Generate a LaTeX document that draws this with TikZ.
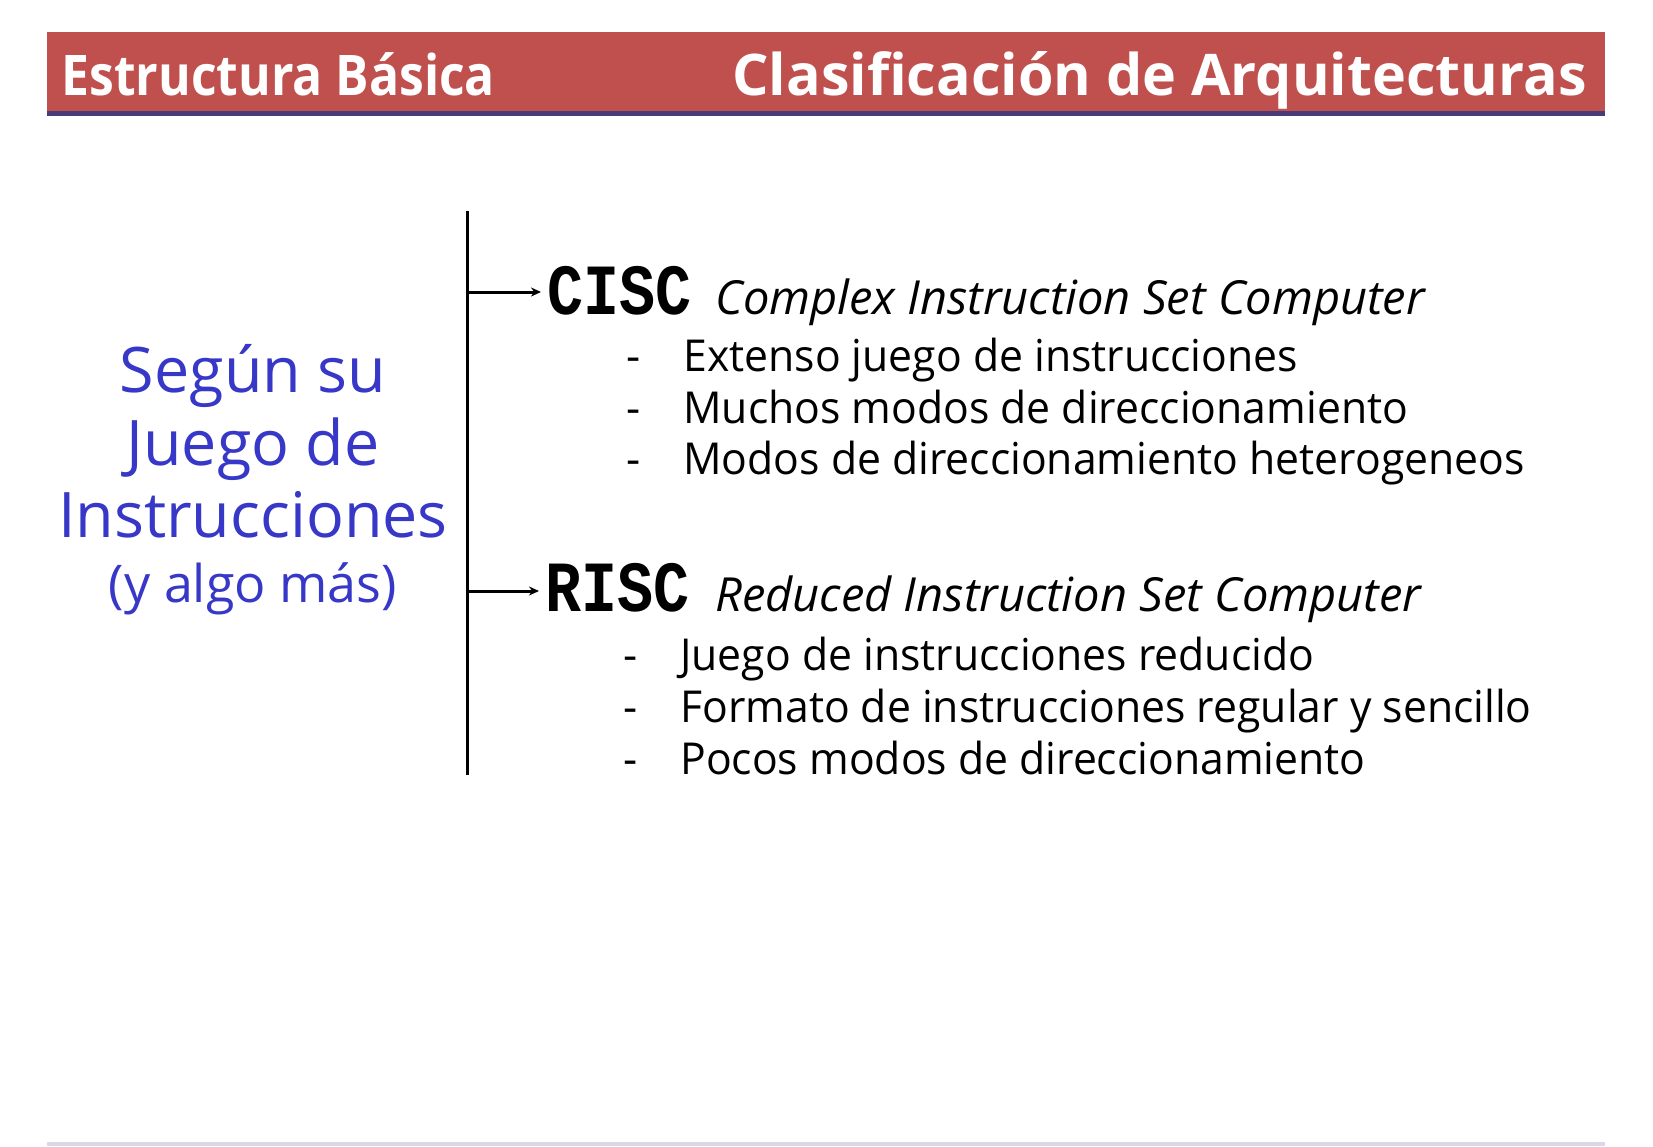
\documentclass[tikz,border=0pt]{standalone}
\usepackage{fontspec}
\setmainfont{Open Sans}
\newfontfamily\codefont{Liberation Mono}
\usetikzlibrary{arrows.meta}
\definecolor{hdrred}{HTML}{C0504D}
\definecolor{hdrline}{HTML}{4B3A78}
\definecolor{footline}{HTML}{D8D8E8}
\definecolor{sideblue}{HTML}{3737C8}
\begin{document}
\begin{tikzpicture}[x=0.5pt,y=-0.5pt,
  hdrtext/.style={text=white,inner sep=0,anchor=base west,
    font=\fontsize{28}{30}\selectfont\bfseries},
  acronym/.style={inner sep=0,anchor=base west,yscale=1.2,
    font=\codefont\fontsize{30}{32}\selectfont\bfseries},
  longname/.style={inner sep=0,anchor=base west,
    font=\fontsize{23.5}{25}\selectfont\itshape},
  item/.style={inner sep=0,anchor=base west,xscale=0.97,
    font=\fontsize{22}{24}\selectfont},
  dashmark/.style={inner sep=0,anchor=base west,
    font=\fontsize{22}{24}\selectfont},
  side/.style={inner sep=0,anchor=base,text=sideblue,
    font=\fontsize{31.4}{33}\selectfont},
  branch/.style={line width=1.5pt,shorten >=3pt,
    -{Stealth[length=5pt,width=4.5pt]}},
  bar/.style={line width=1.5pt}]
\useasboundingbox (0,0) rectangle (1653,1146);
\fill[white] (0,0) rectangle (1653,1146);

% title bar
\fill[hdrred] (47,32) rectangle (1605,111);
\fill[hdrline] (47,111) rectangle (1605,116);
\node[hdrtext,xscale=0.89] (sec) at (61,95) {Estructura Básica};
\node[hdrtext,anchor=base east,font=\fontsize{28.7}{31}\selectfont\bfseries] (title) at (1587,95) {Clasificación de Arquitecturas};

% footer rule
\fill[footline] (47,1142) rectangle (1605,1146);

% left caption
\node[side] (l1) at (253,392) {Según su};
\node[side] (l2) at (253,465) {Juego de};
\node[side] (l3) at (253,537) {Instrucciones};
\node[side,font=\fontsize{26}{28}\selectfont] (l4) at (253,602) {(y algo más)};

% vertical bar and branches
\coordinate (bartop) at (467,211);
\coordinate (barbot) at (467,775);
\draw[bar] (bartop) -- (barbot);

\node[acronym] (cisc) at (547,314) {CISC};
\node[longname] (ciscname) at (715,314) {Complex Instruction Set Computer};
\coordinate (cjoin) at (467,292);
\draw[branch] (cjoin) -- (cjoin -| cisc.west);

\node[acronym] (risc) at (545,611) {RISC};
\node[longname] (riscname) at (715,611) {Reduced Instruction Set Computer};
\coordinate (rjoin) at (467,591);
\draw[branch] (rjoin) -- (rjoin -| risc.west);

% CISC features
\node[dashmark] (cd1) at (626,371) {-};
\node[item] (c1) at (683,371) {Extenso juego de instrucciones};
\node[dashmark] (cd2) at (626,423) {-};
\node[item] (c2) at (683,423) {Muchos modos de direccionamiento};
\node[dashmark] (cd3) at (626,474) {-};
\node[item] (c3) at (683,474) {Modos de direccionamiento heterogeneos};

% RISC features
\node[dashmark] (rd1) at (623,670) {-};
\node[item] (r1) at (680,670) {Juego de instrucciones reducido};
\node[dashmark] (rd2) at (623,722) {-};
\node[item] (r2) at (680,722) {Formato de instrucciones regular y sencillo};
\node[dashmark] (rd3) at (623,774) {-};
\node[item] (r3) at (680,774) {Pocos modos de direccionamiento};
\end{tikzpicture}
\end{document}
